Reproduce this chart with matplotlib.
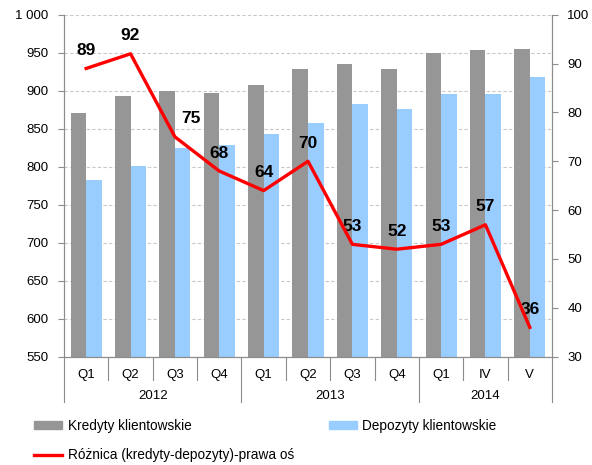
import matplotlib.pyplot as plt
import numpy as np
from matplotlib.patches import Patch
from matplotlib.lines import Line2D
from matplotlib.ticker import FuncFormatter

plt.rcParams["font.family"] = ["Liberation Sans", "DejaVu Sans"]

quarters = ["Q1", "Q2", "Q3", "Q4", "Q1", "Q2", "Q3", "Q4", "Q1", "IV", "V"]
years = ["2012", "2013", "2014"]
year_spans = [(0, 3), (4, 7), (8, 10)]
kredyty = [871, 893, 899, 897, 908, 929, 935, 928, 949, 953, 955]
depozyty = [782, 801, 824, 829, 843, 858, 882, 876, 896, 896, 918]
roznica = [89, 92, 75, 68, 64, 70, 53, 52, 53, 57, 36]

# label offsets (px) for the difference values
label_dx = [0, 0, 16, 0, 0, 0, 0, 0, 0, 0, 0]

GRAY = "#969696"
BLUE = "#99ccff"
AXC = "#8c8c8c"

fig = plt.figure(figsize=(5.92, 4.65), dpi=100)
ax = fig.add_axes([64 / 592, 1 - 356.7 / 465, (552 - 64) / 592, (356.7 - 14.7) / 465])
ax2 = ax.twinx()

x = np.arange(len(quarters))
w = 0.35
ax.bar(x - w / 2, kredyty, w, color=GRAY, zorder=2, linewidth=0)
ax.bar(x + w / 2, depozyty, w, color=BLUE, zorder=2, linewidth=0)

ax.set_ylim(550, 1000)
ax.set_yticks(np.arange(550, 1001, 50))
ax.yaxis.set_major_formatter(FuncFormatter(lambda v, p: f"{int(v):,}".replace(",", " ")))
ax.set_xlim(-0.5, len(quarters) - 0.5)
ax.grid(axis="y", linestyle=(0, (3, 2)), color="#c8c8c8", linewidth=0.8, zorder=0)
ax.set_axisbelow(True)

ax2.plot(x, roznica, color="#ff0000", linewidth=2.4, zorder=5)
ax2.set_ylim(30, 100)
ax2.set_yticks(np.arange(30, 101, 10))
for xi, v, dx in zip(x, roznica, label_dx):
    ax2.annotate(str(v), (xi, v), xytext=(dx, 18), textcoords="offset pixels",
                 ha="center", va="center", fontsize=12.5, fontweight="bold")

for a in (ax, ax2):
    a.spines["top"].set_visible(False)
    for s in ("left", "right", "bottom"):
        a.spines[s].set_color(AXC)
    a.tick_params(axis="y", colors=AXC, labelcolor="black", labelsize=9.5, length=4, pad=7)

ax.set_xticks(x)
ax.set_xticklabels(quarters)
ax.tick_params(axis="x", length=0, labelsize=9.5, pad=9)

trans = ax.get_xaxis_transform()
for i in range(len(quarters) + 1):
    boundary = i - 0.5
    is_year = boundary in (-0.5, 3.5, 7.5, len(quarters) - 0.5)
    y_end = -0.133 if is_year else -0.068
    ax.plot([boundary, boundary], [0, y_end], color=AXC, linewidth=0.8,
            transform=trans, clip_on=False)
for name, (a0, a1) in zip(years, year_spans):
    ax.text((a0 + a1) / 2, -0.115, name, transform=trans, ha="center", va="center", fontsize=9.5)

handles = [Patch(color=GRAY), Line2D([0], [0], color="#ff0000", linewidth=2.4), Patch(color=BLUE)]
labels = ["Kredyty klientowskie", "Różnica (kredyty-depozyty)-prawa oś", "Depozyty klientowskie"]
fig.legend(handles, labels, loc="upper left", bbox_to_anchor=(0.049, 0.111), ncol=2,
           frameon=False, fontsize=9.8, handlelength=2.06, handleheight=0.57,
           handletextpad=0.37, labelspacing=1.12, columnspacing=2.57, borderaxespad=0)

fig.savefig("out.png", dpi=100)
